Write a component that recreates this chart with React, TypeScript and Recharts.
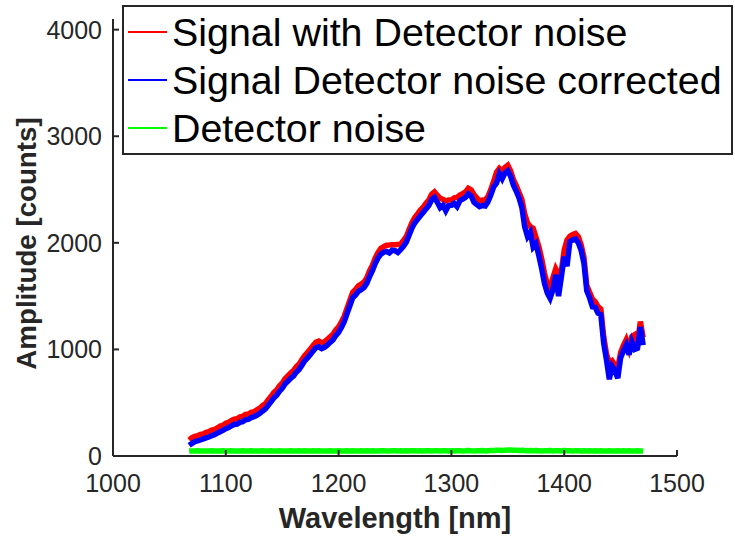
import React from 'react';
import { LineChart, Line, XAxis, YAxis, Legend } from 'recharts';

// Wavelength grid of the spectrum, nm
const wavelengthNm = [
  1067.5, 1070, 1072.5, 1075, 1077.5, 1080, 1082.5, 1085, 1087.5, 1090,
  1092.5, 1095, 1097.5, 1100, 1102.5, 1105, 1107.5, 1110, 1112.5, 1115,
  1117.5, 1120, 1122.5, 1125, 1127.5, 1130, 1132.5, 1135, 1137.5, 1140,
  1142.5, 1145, 1147.5, 1150, 1152.5, 1155, 1157.5, 1160, 1162.5, 1165,
  1167.5, 1170, 1172.5, 1175, 1177.5, 1180, 1182.5, 1185, 1187.5, 1190,
  1192.5, 1195, 1197.5, 1200, 1202.5, 1205, 1207.5, 1210, 1212.5, 1215,
  1217.5, 1220, 1222.5, 1225, 1227.5, 1230, 1232.5, 1235, 1237.5, 1240,
  1242.5, 1245, 1247.5, 1250, 1252.5, 1255, 1257.5, 1260, 1262.5, 1265,
  1267.5, 1270, 1272.5, 1275, 1277.5, 1280, 1282.5, 1285, 1287.5, 1290,
  1292.5, 1295, 1297.5, 1300, 1302.5, 1305, 1307.5, 1310, 1312.5, 1315,
  1317.5, 1320, 1322.5, 1325, 1327.5, 1330, 1332.5, 1335, 1337.5, 1340,
  1342.5, 1345, 1347.5, 1350, 1352.5, 1355, 1357.5, 1360, 1362.5, 1365,
  1367.5, 1370, 1372.5, 1375, 1377.5, 1380, 1382.5, 1385, 1387.5, 1390,
  1392.5, 1395, 1397.5, 1400, 1402.5, 1405, 1407.5, 1410, 1412.5, 1415,
  1417.5, 1420, 1422.5, 1425, 1427.5, 1430, 1432.5, 1435, 1437.5, 1440,
  1442.5, 1445, 1447.5, 1450, 1452.5, 1455, 1457.5, 1460, 1462.5, 1465,
  1467.5, 1470,
];

// Raw signal including detector noise, counts
const signalWithNoise = [
  150, 172, 185, 190, 203, 208, 222, 228, 243, 250,
  263, 281, 288, 307, 316, 333, 345, 350, 368, 372,
  391, 393, 410, 416, 434, 448, 472, 490, 527, 558,
  594, 618, 657, 684, 726, 752, 778, 802, 838, 862,
  905, 944, 972, 1003, 1038, 1068, 1078, 1062, 1072, 1093,
  1118, 1142, 1183, 1212, 1258, 1312, 1388, 1462, 1537, 1562,
  1596, 1612, 1633, 1672, 1738, 1790, 1858, 1910, 1948, 1965,
  1978, 1980, 1983, 1982, 1985, 1988, 2022, 2058, 2126, 2190,
  2238, 2272, 2308, 2336, 2372, 2402, 2456, 2478, 2447, 2418,
  2408, 2392, 2402, 2403, 2422, 2426, 2448, 2462, 2478, 2512,
  2498, 2452, 2423, 2392, 2402, 2400, 2437, 2502, 2578, 2662,
  2698, 2672, 2707, 2728, 2676, 2592, 2536, 2472, 2406, 2272,
  2186, 2152, 2136, 2052, 1966, 1852, 1716, 1612, 1566, 1672,
  1756, 1704, 1736, 1932, 2026, 2062, 2078, 2088, 2058, 1982,
  1866, 1602, 1536, 1472, 1448, 1402, 1378, 1122, 958, 872,
  893, 852, 828, 972, 1038, 1092, 1008, 1122, 1138, 1062,
  1262, 1112,
];

// Signal after subtracting the detector noise, counts
const signalCorrected = [
  100, 118, 135, 142, 150, 160, 170, 178, 190, 200,
  214, 228, 240, 256, 268, 282, 296, 300, 316, 322,
  340, 344, 360, 368, 382, 398, 420, 440, 474, 508,
  544, 568, 605, 634, 676, 700, 728, 750, 786, 812,
  852, 894, 920, 952, 986, 1016, 1024, 1008, 1020, 1040,
  1066, 1090, 1130, 1160, 1206, 1260, 1336, 1410, 1484, 1510,
  1544, 1560, 1580, 1620, 1684, 1738, 1806, 1858, 1894, 1912,
  1920, 1905, 1930, 1926, 1910, 1936, 1968, 2006, 2072, 2138,
  2186, 2220, 2254, 2284, 2318, 2350, 2404, 2426, 2380, 2330,
  2352, 2300, 2350, 2352, 2370, 2340, 2395, 2410, 2426, 2460,
  2440, 2380, 2360, 2340, 2350, 2346, 2385, 2450, 2526, 2560,
  2646, 2600, 2655, 2676, 2624, 2540, 2484, 2420, 2330, 2150,
  2060, 2100, 1960, 1990, 1880, 1760, 1620, 1530, 1480, 1560,
  1700, 1500, 1680, 1870, 1780, 2010, 2026, 2036, 2000, 1930,
  1810, 1550, 1484, 1400, 1396, 1340, 1326, 1060, 900, 720,
  840, 800, 730, 920, 986, 1040, 950, 1070, 1000, 1010,
  1210, 1040,
];

// Detector noise level, counts
const detectorNoise = [
  46, 48, 47, 49, 46, 48, 47, 48, 49, 47,
  48, 46, 49, 47, 48, 50, 47, 48, 46, 49,
  48, 47, 49, 48, 46, 48, 50, 47, 48, 49,
  47, 48, 49, 46, 48, 47, 50, 48, 47, 49,
  48, 49, 47, 48, 50, 47, 49, 48, 46, 48,
  49, 47, 48, 50, 48, 47, 49, 48, 50, 47,
  48, 49, 47, 50, 48, 49, 47, 48, 50, 49,
  48, 47, 49, 50, 48, 49, 47, 50, 48, 49,
  50, 48, 49, 47, 50, 49, 48, 50, 49, 48,
  50, 49, 48, 50, 47, 49, 50, 48, 49, 51,
  49, 48, 50, 49, 51, 48, 50, 52, 51, 53,
  54, 52, 55, 56, 57, 55, 54, 52, 53, 51,
  50, 52, 49, 51, 50, 48, 50, 49, 51, 48,
  50, 49, 48, 51, 50, 49, 48, 50, 49, 48,
  50, 48, 49, 47, 50, 48, 49, 47, 48, 50,
  48, 47, 49, 48, 50, 47, 49, 48, 47, 49,
  48, 47,
];

const xTicks = [1000, 1100, 1200, 1300, 1400, 1500];
const yTicks = [0, 1000, 2000, 3000, 4000];

const seriesLabels = [
  'Signal with Detector noise',
  'Signal Detector noise corrected',
  'Detector noise',
];

const data = wavelengthNm.map((nm, i) => ({
  nm,
  raw: signalWithNoise[i],
  corrected: signalCorrected[i],
  noise: detectorNoise[i],
}));

const FONT = '"Liberation Sans", Arial, Helvetica, sans-serif';
const AXIS = '#262626';

const axisLineStyle = { stroke: AXIS, strokeWidth: 2 };
const tickStyle = { fill: AXIS, fontSize: 25, fontFamily: FONT };

function LegendBox(props: any) {
  const items = [...(props.payload || [])].sort(
    (a: any, b: any) => seriesLabels.indexOf(a.value) - seriesLabels.indexOf(b.value)
  );
  return (
    <svg width={611} height={150} style={{ display: 'block' }}>
      <rect x={1} y={1} width={609} height={148} fill="#ffffff" stroke={AXIS} strokeWidth={2} />
      {items.map((item: any, i: number) => {
        const cy = 27 + i * 48;
        return (
          <g key={item.value}>
            <line x1={6} x2={45} y1={cy} y2={cy} stroke={item.color} strokeWidth={2} />
            <text x={50} y={cy + 14} fontSize={39.4} fontFamily={FONT} fill="#000000">
              {item.value}
            </text>
          </g>
        );
      })}
    </svg>
  );
}

function XTitle(props: any) {
  const vb = props.viewBox || { x: 113, width: 564 };
  return (
    <text x={vb.x + vb.width / 2} y={528} textAnchor="middle" fontSize={29} fontWeight="bold" fontFamily={FONT} fill={AXIS}>
      Wavelength [nm]
    </text>
  );
}

function YTitle(props: any) {
  const vb = props.viewBox || { y: 19, height: 437 };
  const cy = vb.y + vb.height / 2 + 6;
  const x = 36;
  return (
    <text x={x} y={cy} transform={`rotate(-90 ${x} ${cy})`} textAnchor="middle" fontSize={27.7} fontWeight="bold" fontFamily={FONT} fill={AXIS}>
      Amplitude [counts]
    </text>
  );
}

export default function App() {
  return (
    <div style={{ position: 'absolute', left: 0, top: 0, background: '#ffffff' }}>
      <LineChart width={735} height={538} data={data} margin={{ top: 19, right: 58, bottom: 0, left: 0 }}>
        <XAxis
          xAxisId="bottom"
          dataKey="nm"
          type="number"
          domain={[1000, 1500]}
          ticks={xTicks}
          interval={0}
          orientation="bottom"
          height={82}
          tickSize={-6}
          tickMargin={24}
          axisLine={axisLineStyle}
          tickLine={axisLineStyle}
          tick={tickStyle}
          label={{ content: XTitle }}
        />
        <XAxis
          xAxisId="top"
          dataKey="nm"
          type="number"
          domain={[1000, 1500]}
          ticks={xTicks}
          interval={0}
          orientation="top"
          height={0}
          tickSize={-6}
          axisLine={axisLineStyle}
          tickLine={axisLineStyle}
          tick={false}
        />
        <YAxis
          yAxisId="left"
          type="number"
          domain={[0, 4100]}
          ticks={yTicks}
          interval={0}
          width={113}
          tickSize={-6}
          tickMargin={17}
          axisLine={axisLineStyle}
          tickLine={axisLineStyle}
          tick={tickStyle}
          label={{ content: YTitle }}
        />
        <YAxis
          yAxisId="right"
          orientation="right"
          type="number"
          domain={[0, 4100]}
          ticks={yTicks}
          interval={0}
          width={0}
          tickSize={-6}
          axisLine={axisLineStyle}
          tickLine={axisLineStyle}
          tick={false}
        />
        <Line
          xAxisId="bottom"
          yAxisId="left"
          type="linear"
          dataKey="raw"
          name={seriesLabels[0]}
          stroke="#ff0000"
          strokeWidth={5.5}
          dot={false}
          isAnimationActive={false}
        />
        <Line
          xAxisId="bottom"
          yAxisId="left"
          type="linear"
          dataKey="corrected"
          name={seriesLabels[1]}
          stroke="#0000ff"
          strokeWidth={5.5}
          dot={false}
          isAnimationActive={false}
        />
        <Line
          xAxisId="bottom"
          yAxisId="left"
          type="linear"
          dataKey="noise"
          name={seriesLabels[2]}
          stroke="#00ff00"
          strokeWidth={5.5}
          dot={false}
          isAnimationActive={false}
        />
        <Legend
          layout="vertical"
          align="center"
          verticalAlign="middle"
          content={LegendBox}
          wrapperStyle={{ left: 122, top: 5, width: 611, height: 150, right: 'auto', bottom: 'auto' }}
        />
      </LineChart>
    </div>
  );
}
